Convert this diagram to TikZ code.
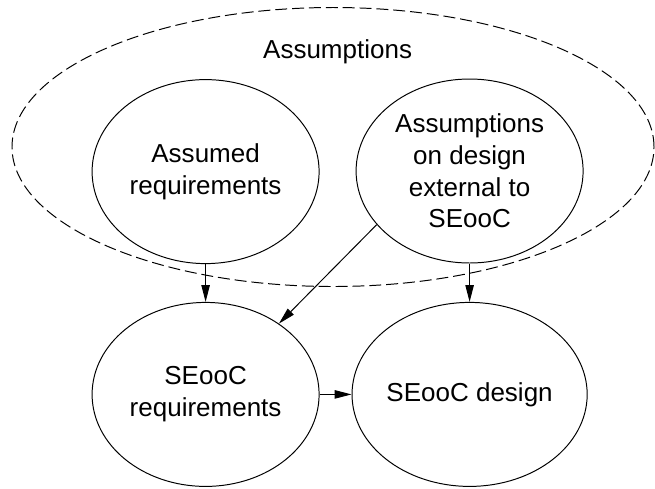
\documentclass[tikz,border=0pt]{standalone}
\usepackage{fontspec}
\setmainfont{Liberation Sans}
\usetikzlibrary{arrows.meta,shapes.geometric,positioning}

\begin{document}
\begin{tikzpicture}[
    circ/.style={draw, ellipse, line width=0.7pt, inner sep=0pt, minimum width=5.675cm, minimum height=4.6cm, align=center, font=\fontsize{18.5}{22.5}\selectfont},
    grp/.style={draw, ellipse, line width=0.7pt, dash pattern=on 8.5pt off 3.5pt, minimum width=16.05cm, minimum height=6.975cm},
    arr/.style={-{Triangle[length=12pt,width=6pt]}, line width=0.7pt}
]
\useasboundingbox (0,0) rectangle (16.375,-12.2);
\node[grp] (assum) at (8.325,-3.675) {};
\node[anchor=base, font=\fontsize{18.5}{22.5}\selectfont] (lbl) at (8.44,-1.45) {Assumptions};
\node[circ] (areq) at (5.14,-4.29) {Assumed\\requirements};
\node[circ] (aext) at (11.74,-4.275) {Assumptions\\on design\\external to\\SEooC};
\node[circ] (sreq) at (5.14,-9.86) {SEooC\\requirements};
\node[circ] (sdes) at (11.74,-9.86) {SEooC design};

\draw[arr] (areq) -- (sreq);
\draw[arr] (aext) -- (sdes);
\draw[arr] (aext.210.5) -- (sreq.44);
\draw[arr] (sreq) -- (sdes);
\end{tikzpicture}
\end{document}
